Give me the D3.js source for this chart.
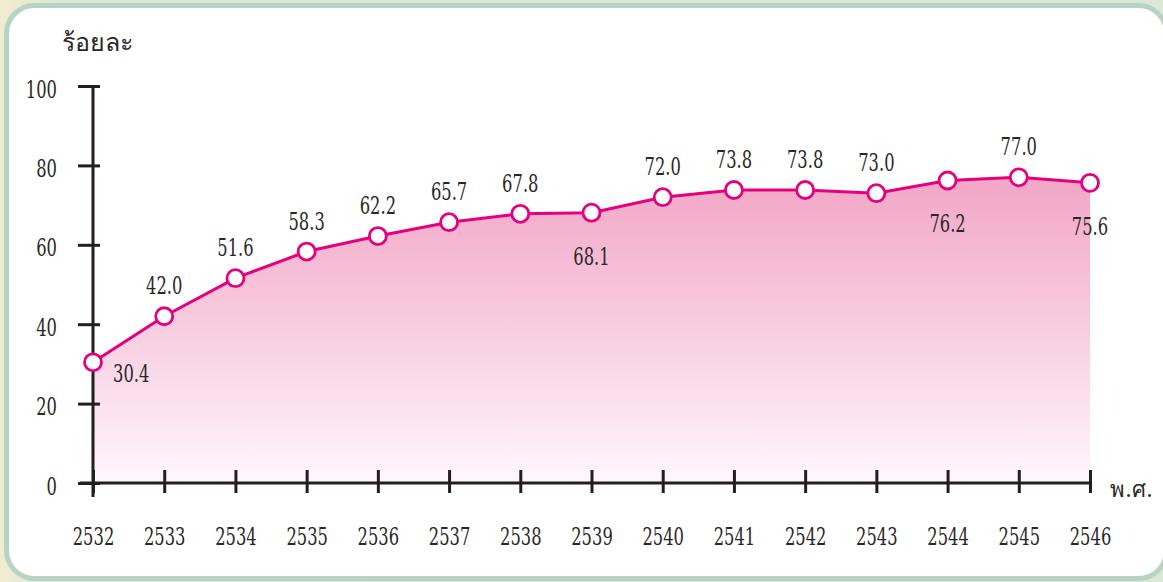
<!DOCTYPE html>
<html><head><meta charset="utf-8">
<script src="https://cdn.jsdelivr.net/npm/d3@7"></script>
<style>
html,body{margin:0;padding:0;background:#dfe9d9;}
svg{display:block;}
</style></head>
<body><svg id="c" width="1163" height="582"></svg>
<script>
const years = ["2532","2533","2534","2535","2536","2537","2538","2539","2540","2541","2542","2543","2544","2545","2546"];
const values = [30.4,42.0,51.6,58.3,62.2,65.7,67.8,68.1,72.0,73.8,73.8,73.0,76.2,77.0,75.6];
const labelText = ["30.4","42.0","51.6","58.3","62.2","65.7","67.8","68.1","72.0","73.8","73.8","73.0","76.2","77.0","75.6"];
const labelSide = ["right","above","above","above","above","above","above","below","above","above","above","above","below","above","below"];
const yTicks = [0,20,40,60,80,100];
const yTitle = "ร้อยละ";
const xTitle = "พ.ศ.";

const FONT = "DejaVu Serif";
const SX = 0.68;
const FS = 24;
const svg = d3.select("#c");
const W = 1163, H = 582;
const ink = "#231f20", txt = "#2b2728", pink = "#e5007e";

// background
const defs = svg.append("defs");
const bg = defs.append("linearGradient").attr("id","bg").attr("x1",0).attr("y1",0).attr("x2",1).attr("y2",0);
bg.append("stop").attr("offset",0).attr("stop-color","#f1ecd0");
bg.append("stop").attr("offset",0.05).attr("stop-color","#dde8d5");
bg.append("stop").attr("offset",1).attr("stop-color","#dbe8d6");
svg.append("rect").attr("width",W).attr("height",H).attr("fill","url(#bg)");
svg.append("rect").attr("x",6.5).attr("y",5.5).attr("width",1160).attr("height",573)
  .attr("rx",28).attr("fill","#fff").attr("stroke","#b6d3c3").attr("stroke-width",5);

const x = d3.scalePoint().domain(years).range([93,1090]);
const y = d3.scaleLinear().domain([0,100]).range([483,86]);

// area gradient
const ag = defs.append("linearGradient").attr("id","ag").attr("gradientUnits","userSpaceOnUse")
  .attr("x1",0).attr("x2",0).attr("y1",y(78)).attr("y2",y(0));
ag.append("stop").attr("offset",0).attr("stop-color","#f2a5c6");
ag.append("stop").attr("offset",0.5).attr("stop-color","#f8cde0");
ag.append("stop").attr("offset",1).attr("stop-color","#fff7fb");

const pts = years.map((yr,i)=>({yr, v:values[i], t:labelText[i], s:labelSide[i]}));

svg.append("path").datum(pts)
  .attr("d", d3.area().x(d=>x(d.yr)).y0(y(0)).y1(d=>y(d.v)))
  .attr("fill","url(#ag)");

// y axis
const ya = svg.append("g").attr("transform",`translate(${x(years[0])},0)`)
  .call(d3.axisLeft(y).tickValues(yTicks).tickSize(15).tickFormat(d3.format("d")));
ya.attr("font-family",FONT);
ya.select(".domain").remove();
ya.selectAll(".tick line").attr("x1",7).attr("x2",-15).attr("stroke",ink).attr("stroke-width",3);
ya.selectAll(".tick text").attr("x",null).attr("dy",null)
  .attr("transform",`translate(-36,11) scale(${SX},1)`)
  .attr("font-size",FS).attr("fill",txt).attr("text-anchor","end")
  .attr("font-family",FONT);
svg.append("line").attr("x1",x(years[0])).attr("x2",x(years[0])).attr("y1",y(100)-1).attr("y2",497)
  .attr("stroke",ink).attr("stroke-width",3);

// x axis
const xa = svg.append("g").attr("transform",`translate(0,${y(0)})`)
  .call(d3.axisBottom(x).tickSize(10));
xa.attr("font-family",FONT);
xa.select(".domain").remove();
xa.selectAll(".tick line").attr("y1",-13).attr("y2",10).attr("stroke",ink).attr("stroke-width",3);
xa.selectAll(".tick text").attr("y",null).attr("dy",null)
  .attr("transform",`translate(0,62) scale(${SX},1)`)
  .attr("font-size",FS).attr("fill",txt)
  .attr("font-family",FONT);
svg.append("line").attr("x1",80).attr("x2",x(years[years.length-1])).attr("y1",y(0)).attr("y2",y(0))
  .attr("stroke",ink).attr("stroke-width",3);

// line + markers
svg.append("path").datum(pts)
  .attr("d", d3.line().x(d=>x(d.yr)).y(d=>y(d.v)))
  .attr("fill","none").attr("stroke",pink).attr("stroke-width",3);
svg.selectAll("circle.m").data(pts).join("circle").attr("class","m")
  .attr("cx",d=>x(d.yr)).attr("cy",d=>y(d.v)).attr("r",8.5)
  .attr("fill","#fff").attr("stroke",pink).attr("stroke-width",2.8);

// value labels
svg.selectAll("text.v").data(pts).join("text").attr("class","v")
  .attr("transform",d=>{
    const px = x(d.yr), py = y(d.v);
    if (d.s==="right") return `translate(${px+20},${py+20}) scale(${SX},1)`;
    if (d.s==="below") return `translate(${px},${py+52}) scale(${SX},1)`;
    return `translate(${px},${py-22}) scale(${SX},1)`;
  })
  .attr("text-anchor",d=>d.s==="right"?"start":"middle")
  .attr("font-family",FONT).attr("fill",txt)
  .attr("font-size",FS).text(d=>d.t);

// titles
svg.append("text").attr("x",62).attr("y",51).attr("font-size",25).attr("fill",txt)
  .attr("font-family",FONT).text(yTitle);
svg.append("text").attr("x",1110).attr("y",497).attr("font-size",22).attr("fill",txt)
  .attr("font-family",FONT).text(xTitle);
</script></body></html>
